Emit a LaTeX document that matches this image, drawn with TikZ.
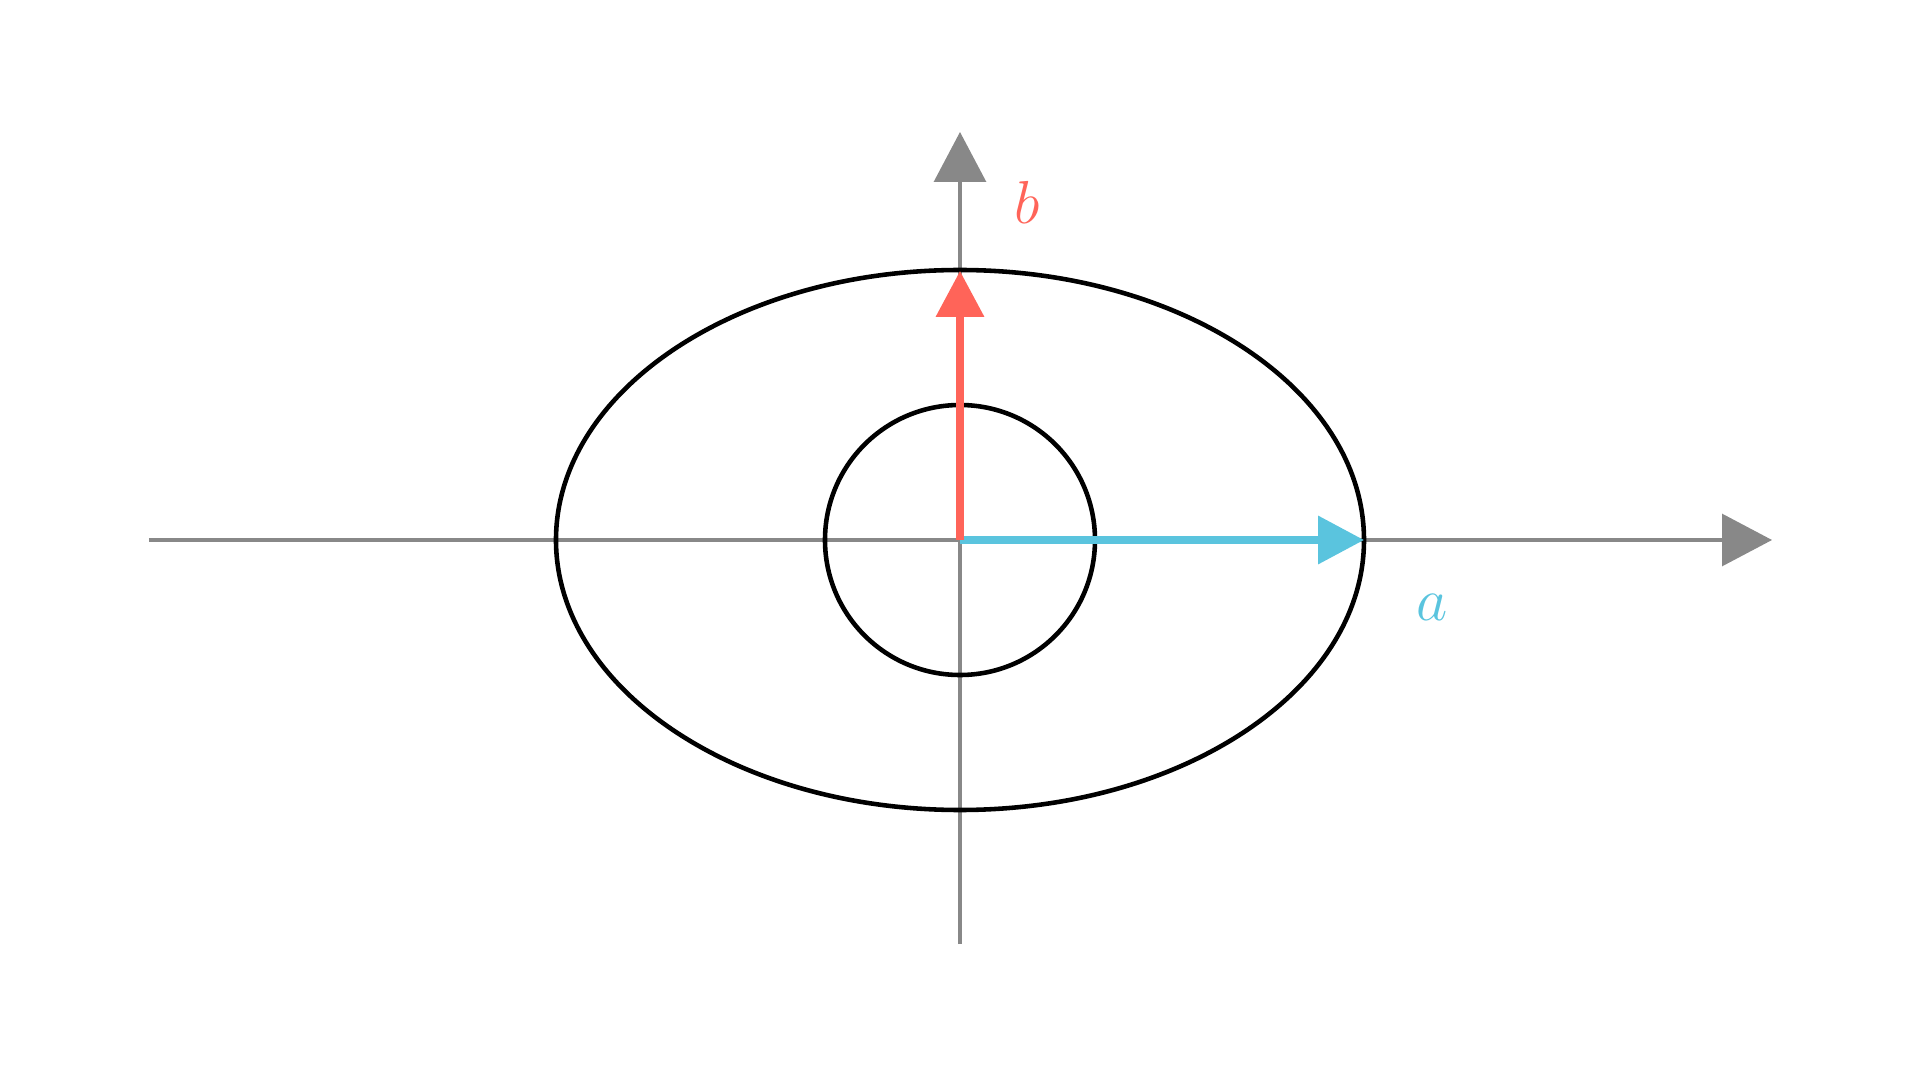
\documentclass[tikz,border=0pt]{standalone}
\usepackage{tikz}
\usetikzlibrary{arrows.meta}
\definecolor{axisgray}{HTML}{888888}
\definecolor{vecred}{HTML}{FF6459}
\definecolor{veccyan}{HTML}{5AC4DE}
\tikzstyle{axis} = [draw=axisgray, line width=0.9pt, -{Triangle[length=5mm, width=5.2mm]}]
\tikzstyle{vec} = [line width=2pt, -{Triangle[length=4.6mm, width=4.7mm]}]
\tikzstyle{curve} = [draw=black, line width=1.3pt]
\tikzstyle{lbl} = [font=\fontsize{19}{23}\selectfont]

\begin{document}
\begin{tikzpicture}
        \useasboundingbox (-9.6,-5.4) rectangle (9.6,5.4);
        \coordinate (O) at (0,0);
        \coordinate (xmin) at (-8.11,0);
        \coordinate (xmax) at (8.12,0);
        \coordinate (ymin) at (0,-4.04);
        \coordinate (ymax) at (0,4.08);
        \coordinate (A) at (4.04,0);
        \coordinate (B) at (0,2.69);

        \draw [axis] (xmin) -- (xmax);
        \draw [axis] (ymin) -- (ymax);

        \draw [curve] (O) ellipse [x radius=4.04, y radius=2.70];
        \draw [curve] (O) circle [radius=1.35];

        \draw [vec, veccyan] (O) -- (A);
        \draw [vec, vecred] (O) -- (B);

        \node (alabel) [lbl, text=veccyan] at (4.72,-0.67) {$a$};
        \node (blabel) [lbl, text=vecred] at (0.67,3.38) {$b$};
    \end{tikzpicture}
\end{document}
